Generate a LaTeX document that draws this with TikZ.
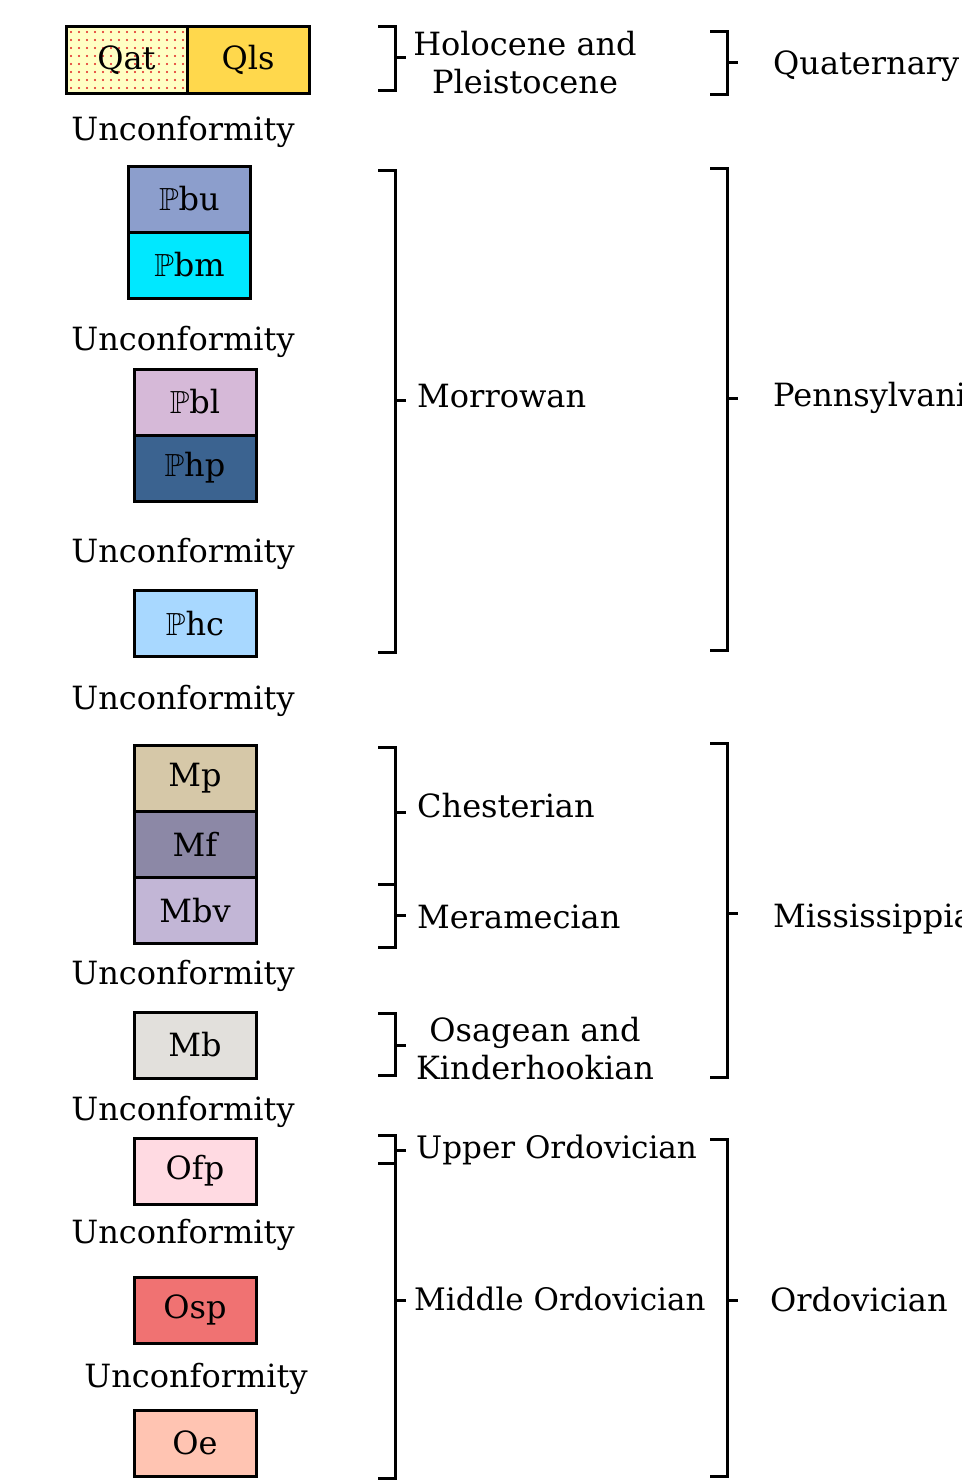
\documentclass[tikz,border=0pt]{standalone}
\usepackage{fontspec}
\usepackage{amssymb}
\setmainfont{DejaVu Serif}
\usetikzlibrary{positioning}

\definecolor{qatfill}{HTML}{FFFFC4}
\definecolor{qatdot}{HTML}{E02020}
\definecolor{qlsfill}{HTML}{FFD84C}
\definecolor{pbufill}{HTML}{8C9ECC}
\definecolor{pbmfill}{HTML}{00E8FF}
\definecolor{pblfill}{HTML}{D6B9D8}
\definecolor{phpfill}{HTML}{3B6390}
\definecolor{phcfill}{HTML}{A8D8FF}
\definecolor{mpfill}{HTML}{D6C8A8}
\definecolor{mffill}{HTML}{8C88A6}
\definecolor{mbvfill}{HTML}{C2B6D6}
\definecolor{mbfill}{HTML}{E2E0DC}
\definecolor{ofpfill}{HTML}{FFDAE2}
\definecolor{ospfill}{HTML}{F07272}
\definecolor{oefill}{HTML}{FFC4B2}

\newcommand{\lblfont}{\fontsize{32}{38}\selectfont}
\newcommand{\PP}{$\mathbb{P}$}
% bracket: x, top, bottom, tick y
\newcommand{\agebrk}[4]{\draw[brk] (#1-17,#2) -- (#1,#2) -- (#1,#3) -- (#1-17,#3) (#1,#4) -- (#1+11,#4);}

\tikzset{
  unit/.style={draw, line width=3pt, minimum width=122pt, minimum height=66pt,
               inner sep=0pt, outer sep=0pt, font=\lblfont},
  uncf/.style={inner sep=0pt, font=\lblfont, yshift=-3pt},
  agetxt/.style={inner sep=0pt, font=\lblfont, anchor=west},
  brk/.style={line width=3pt}
}

\begin{document}
\begin{tikzpicture}[x=1pt,y=-1pt]
\useasboundingbox (0,0) rectangle (961,1480);
\clip (0,0) rectangle (961,1480);

\node[unit, fill=qatfill, minimum width=121pt,
      path picture={\foreach \i in {0,...,14} \foreach \j in {0,...,8}
        \fill[qatdot] ([xshift=5pt+\i*8pt, yshift=-5pt-\j*8pt]path picture bounding box.north west) circle (1.2pt);}]
      (qat) at (126.5,60) {Qat};
\node[unit, fill=qlsfill, right=0pt of qat] (qls) {Qls};
\node[uncf] (u1) at (183,129) {Unconformity};

\node[unit, fill=pbufill] (pbu) at (189.5,199) {\PP bu};
\node[unit, fill=pbmfill, below=0pt of pbu] (pbm) {\PP bm};
\node[uncf] (u2) at (183,339) {Unconformity};

\node[unit, fill=pblfill] (pbl) at (195,402) {\PP bl};
\node[unit, fill=phpfill, below=0pt of pbl] (php) {\PP hp};
\node[uncf] (u3) at (183,551) {Unconformity};

\node[unit, fill=phcfill] (phc) at (195,623.5) {\PP hc};
\node[uncf] (u4) at (183,698) {Unconformity};

\node[unit, fill=mpfill] (mp) at (195,778.5) {Mp};
\node[unit, fill=mffill, below=0pt of mp] (mf) {Mf};
\node[unit, fill=mbvfill, below=0pt of mf] (mbv) {Mbv};
\node[uncf] (u5) at (183,973) {Unconformity};

\node[unit, fill=mbfill] (mb) at (195,1045) {Mb};
\node[uncf] (u6) at (183,1109) {Unconformity};

\node[unit, fill=ofpfill] (ofp) at (195,1171) {Ofp};
\node[uncf] (u7) at (183,1232) {Unconformity};

\node[unit, fill=ospfill] (osp) at (195,1310) {Osp};
\node[uncf] (u8) at (196,1376) {Unconformity};

\node[unit, fill=oefill] (oe) at (195,1443) {Oe};

\agebrk{395}{27}{90}{58}
\agebrk{395}{170}{652}{400}
\agebrk{395}{747}{884}{812}
\agebrk{395}{884}{947}{915}
\agebrk{395}{1013}{1075}{1045}
\agebrk{395}{1135}{1163}{1150}
\agebrk{395}{1163}{1478}{1300}

\agebrk{727}{32}{94}{63}
\agebrk{727}{168}{650}{398}
\agebrk{727}{743}{1077}{913}
\agebrk{727}{1139}{1476}{1300}

\node[inner sep=0pt, font=\lblfont, align=center] (holo) at (525,63) {Holocene and\\Pleistocene};
\node[agetxt] (morr) at (417,396) {Morrowan};
\node[agetxt] (ches) at (417,806) {Chesterian};
\node[agetxt] (mera) at (417,917) {Meramecian};
\node[inner sep=0pt, font=\lblfont, align=center] (osag) at (535,1049) {Osagean and\\Kinderhookian};
\node[agetxt, font=\fontsize{31}{38}\selectfont] (uord) at (416,1150) {Upper Ordovician};
\node[agetxt, font=\fontsize{31}{38}\selectfont] (mord) at (414,1299) {Middle Ordovician};

\node[agetxt] (quat) at (773,66) {Quaternary};
\node[agetxt] (penn) at (773,398) {Pennsylvanian};
\node[agetxt] (miss) at (773,919) {Mississippian};
\node[agetxt] (ordo) at (770,1300) {Ordovician};
\end{tikzpicture}
\end{document}
